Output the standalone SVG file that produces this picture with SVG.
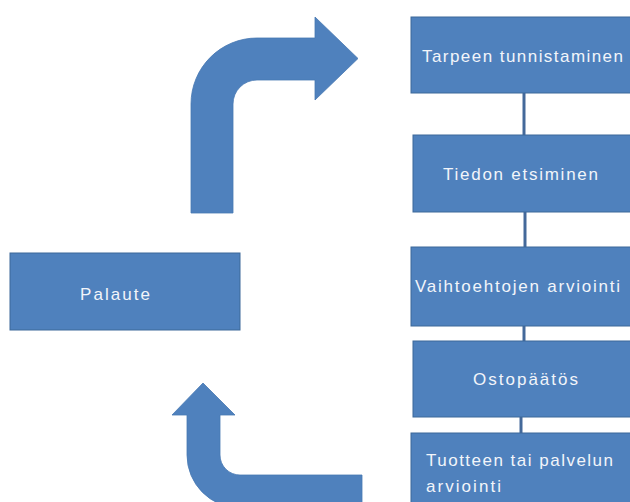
<svg xmlns="http://www.w3.org/2000/svg" width="630" height="502" viewBox="0 0 630 502">
<style>
.box{fill:#4F81BD;stroke:#3D6899;stroke-width:1}
.arrow{fill:#4F81BD;stroke:#4878B2;stroke-width:0.8}
.lbl{font-family:"Liberation Sans",Arial,sans-serif;font-size:17px;fill:#F2F5FA}
.conn{stroke:#44699A;stroke-width:3;fill:none}
</style>
<rect width="630" height="502" fill="#FFFFFF"/>
<g id="connectors">
<line class="conn" x1="524" y1="93" x2="524" y2="135"/>
<line class="conn" x1="525" y1="212" x2="525" y2="247"/>
<line class="conn" x1="524" y1="326" x2="524" y2="341"/>
<line class="conn" x1="521" y1="417" x2="521" y2="433"/>
<path id="arrow-top" class="arrow" d="M191,213 L191,104 A66,66 0 0 1 257,38 L315,38 L315,17 L358,58.5 L315,100 L315,80 L257,80 A24,24 0 0 0 233,104 L233,213 Z"/>
<path id="arrow-bottom" class="arrow" d="M203,383 L235,415 L220,415 L220,455 A20,20 0 0 0 240,475 L362,475 L362,508 L240,508 A53,53 0 0 1 187,455 L187,415 L172,415 Z"/>
</g>
<g id="n1"><rect class="box" x="411" y="17" width="222" height="76"/><text class="lbl" x="422" y="62" textLength="201" lengthAdjust="spacing">Tarpeen tunnistaminen</text></g>
<g id="n2"><rect class="box" x="413" y="135" width="220" height="77"/><text class="lbl" x="443" y="180" textLength="155" lengthAdjust="spacing">Tiedon etsiminen</text></g>
<g id="n3"><rect class="box" x="411" y="247" width="222" height="79"/><text class="lbl" x="415" y="292" textLength="205" lengthAdjust="spacing">Vaihtoehtojen arviointi</text></g>
<g id="n4"><rect class="box" x="413" y="341" width="220" height="76"/><text class="lbl" x="473" y="385" textLength="105" lengthAdjust="spacing">Ostopäätös</text></g>
<g id="n5"><rect class="box" x="411" y="433" width="222" height="75"/><text class="lbl" x="426" y="466" textLength="187" lengthAdjust="spacing">Tuotteen tai palvelun</text><text class="lbl" x="426" y="492" textLength="75" lengthAdjust="spacing">arviointi</text></g>
<g id="palaute"><rect class="box" x="10" y="253" width="230" height="77"/><text class="lbl" x="80" y="300" textLength="70" lengthAdjust="spacing">Palaute</text></g>
</svg>
